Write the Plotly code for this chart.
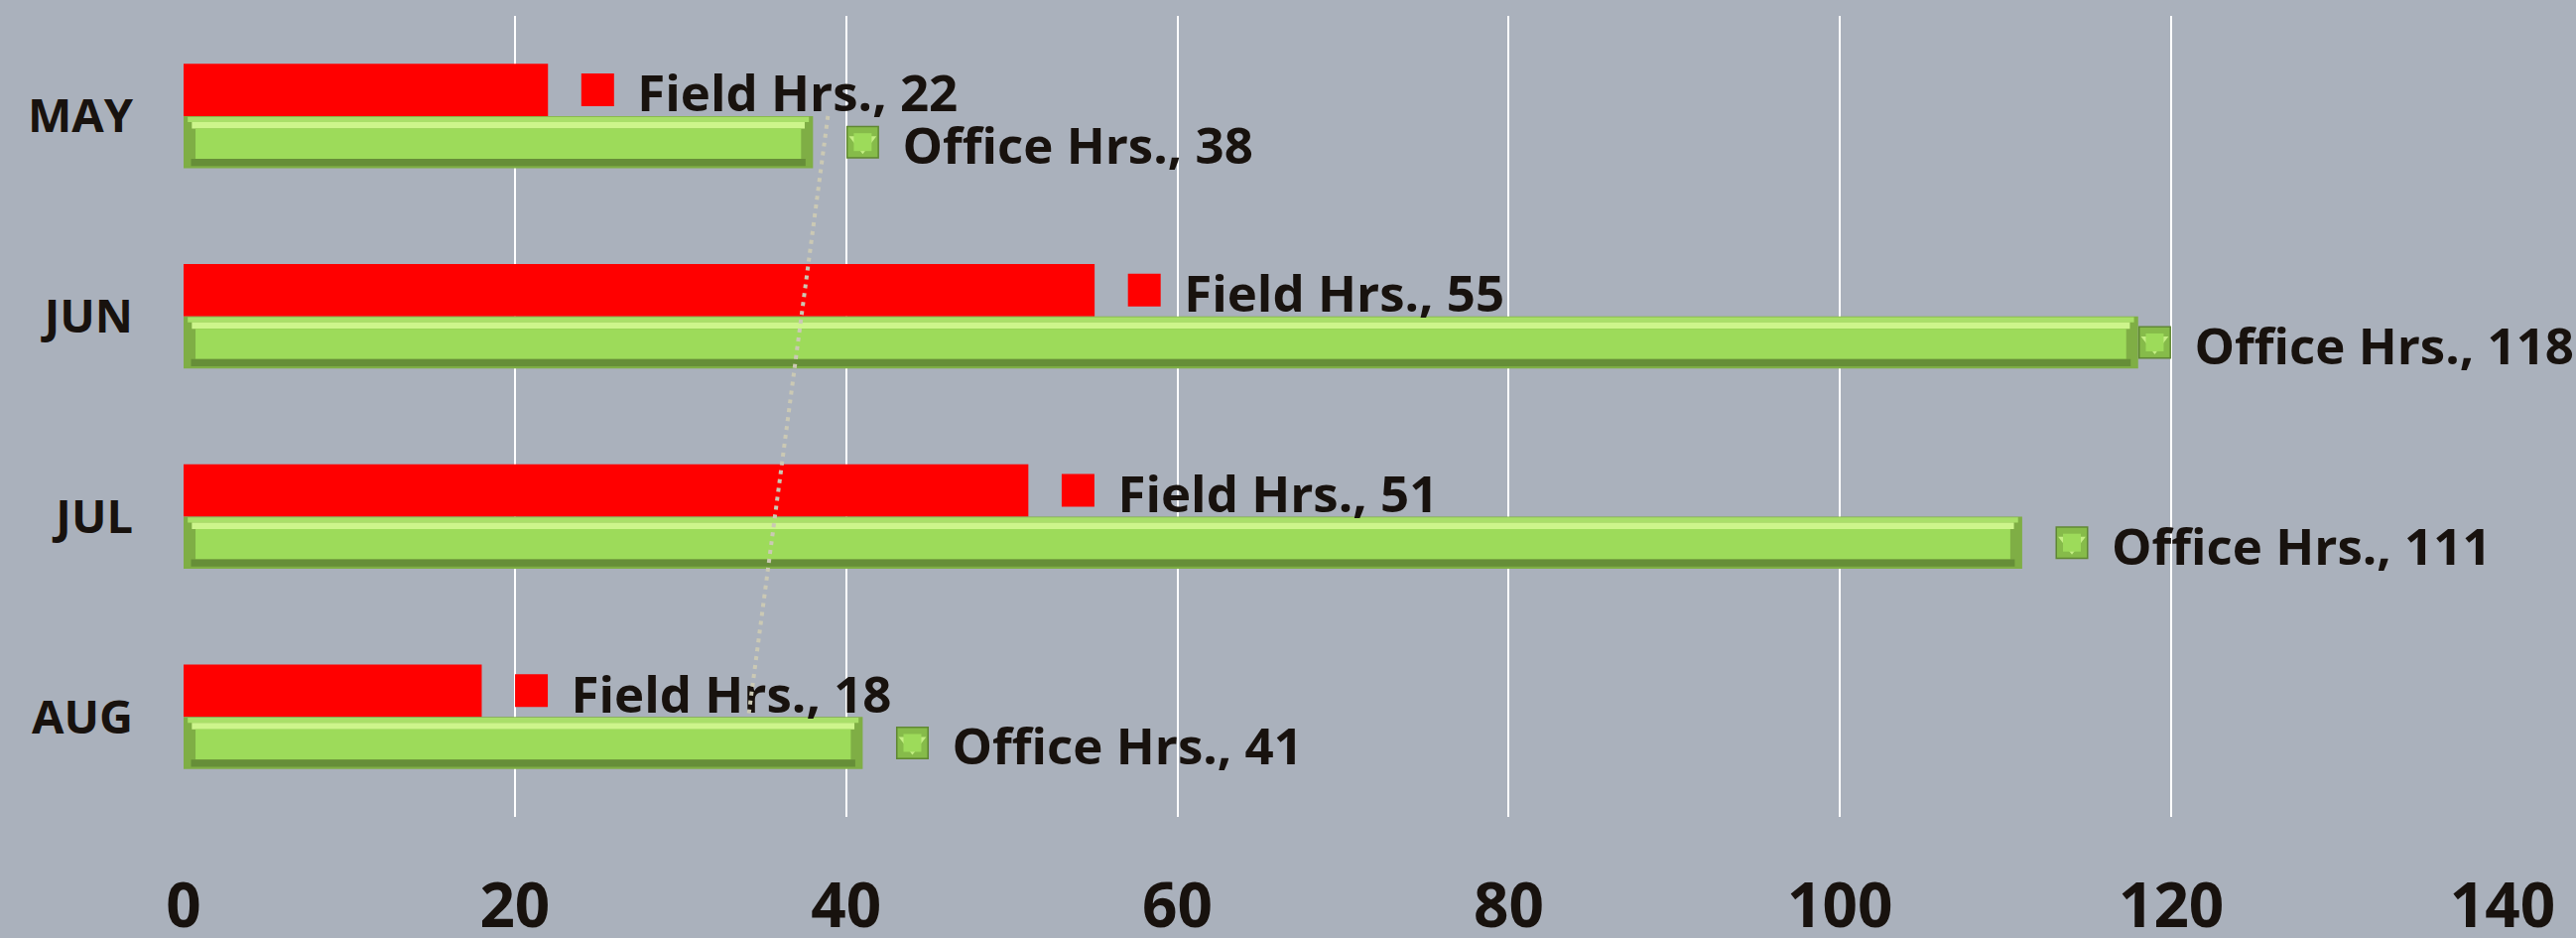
import numpy as np
import plotly.graph_objects as go

# ---------------- data ----------------
months = ["MAY", "JUN", "JUL", "AUG"]
field_hrs = [22, 55, 51, 18]
office_hrs = [38, 118, 111, 41]
field_name = "Field Hrs."
office_name = "Office Hrs."
x_tick_vals = [0, 20, 40, 60, 80, 100, 120, 140]

# ---------------- style ----------------
BG = "#aab1bc"
TXT = "#18120e"
FONT = "Open Sans"
RED = "#ff0000"
BAR_W = 0.261           # each bar's thickness in category units
LABEL_GAP = 3           # legend-key centre, in x units, right of the bar end
LABEL_X_MAX = 119       # Excel nudges labels that would overflow the chart area
TEXT_DY = 0.045         # vertical nudge of the label text relative to its key
# office bar bevel layers: (start offset, end offset, end inset in x units, colour)
OFFICE_BEVEL = [
    (0.000, BAR_W, 0.00, "#7fae45"),
    (0.004, 0.030, 0.25, "#a9df69"),
    (0.030, 0.062, 0.50, "#cdf58c"),
    (0.062, 0.214, 0.72, "#9ddb5a"),
    (0.214, 0.250, 0.45, "#668e38"),
]

idx = np.arange(len(months))
fig = go.Figure()

# Field bars (upper bar of each pair, axis reversed)
fig.add_trace(go.Bar(
    x=field_hrs, y=idx, orientation="h", base=0,
    offset=-BAR_W, width=BAR_W,
    marker=dict(color=RED, line=dict(width=0)),
    name=field_name, hoverinfo="skip",
))

# Office bars drawn as several layers to imitate Excel's bevel
for o0, o1, inset, col in OFFICE_BEVEL:
    fig.add_trace(go.Bar(
        x=[v - 2 * inset for v in office_hrs], y=idx, orientation="h",
        base=inset, offset=o0, width=o1 - o0,
        marker=dict(color=col, line=dict(width=0)),
        name=office_name, hoverinfo="skip",
    ))

# data labels with legend keys
field_lx = [min(v + LABEL_GAP, LABEL_X_MAX) for v in field_hrs]
office_lx = [min(v + LABEL_GAP, LABEL_X_MAX) for v in office_hrs]
field_ly = idx - BAR_W / 2
office_ly = idx + BAR_W / 2

fig.add_trace(go.Scatter(
    x=field_lx, y=field_ly, mode="markers",
    marker=dict(symbol="square", size=33, color=RED, line=dict(width=0)),
    hoverinfo="skip", cliponaxis=False,
))
# office key: bevelled square
for sym, size, col in [("square", 33, "#5f8733"),
                       ("square", 30, "#86bb4a"),
                       ("triangle-down", 24, "#c4ef84"),
                       ("square", 18, "#9ddb5a")]:
    fig.add_trace(go.Scatter(
        x=office_lx, y=office_ly, mode="markers",
        marker=dict(symbol=sym, size=size, color=col, line=dict(width=0)),
        hoverinfo="skip", cliponaxis=False,
    ))

label_font = dict(family=FONT, size=51, color=TXT, weight="bold")
fig.add_trace(go.Scatter(
    x=field_lx, y=field_ly + TEXT_DY, mode="markers+text",
    text=[f"{field_name}, {v}" for v in field_hrs],
    textposition="middle right", textfont=label_font,
    marker=dict(size=62.4, opacity=0),
    hoverinfo="skip", cliponaxis=False,
))
fig.add_trace(go.Scatter(
    x=office_lx, y=office_ly + TEXT_DY, mode="markers+text",
    text=[f"{office_name}, {v}" for v in office_hrs],
    textposition="middle right", textfont=label_font,
    marker=dict(size=62.4, opacity=0),
    hoverinfo="skip", cliponaxis=False,
))

# linear trendline of Field Hrs.
coef = np.polyfit(idx, field_hrs, 1)
trend = np.polyval(coef, idx)
fig.add_trace(go.Scatter(
    x=trend, y=idx, mode="lines",
    line=dict(color="#cbc9b4", width=4, dash="4px,5px"),
    name=f"Linear ({field_name})", hoverinfo="skip",
))

fig.update_layout(
    width=2596, height=945,
    paper_bgcolor=BG, plot_bgcolor=BG,
    barmode="overlay", showlegend=False,
    margin=dict(l=185, r=74, t=16, b=122, autoexpand=False),
    font=dict(family=FONT, color=TXT),
    hovermode=False,
)
fig.update_xaxes(
    range=[0, 140], tickvals=x_tick_vals,
    showgrid=True, gridcolor="#ffffff", gridwidth=2,
    zeroline=False, showline=False, ticks="", automargin=False,
    tickfont=dict(family=FONT, size=62, color=TXT, weight="bold"),
    ticklabelstandoff=48,
)
fig.update_yaxes(
    range=[len(months) - 0.5, -0.5],
    tickvals=idx, ticktext=months,
    showgrid=False, zeroline=False, showline=False, ticks="", automargin=False,
    tickfont=dict(family=FONT, size=47, color=TXT, weight="bold"),
    ticklabelstandoff=50,
)

fig.write_html(
    "out.html",
    config={"displayModeBar": False},
    post_script="document.body.style.margin='0px';document.body.style.overflow='hidden';",
)
